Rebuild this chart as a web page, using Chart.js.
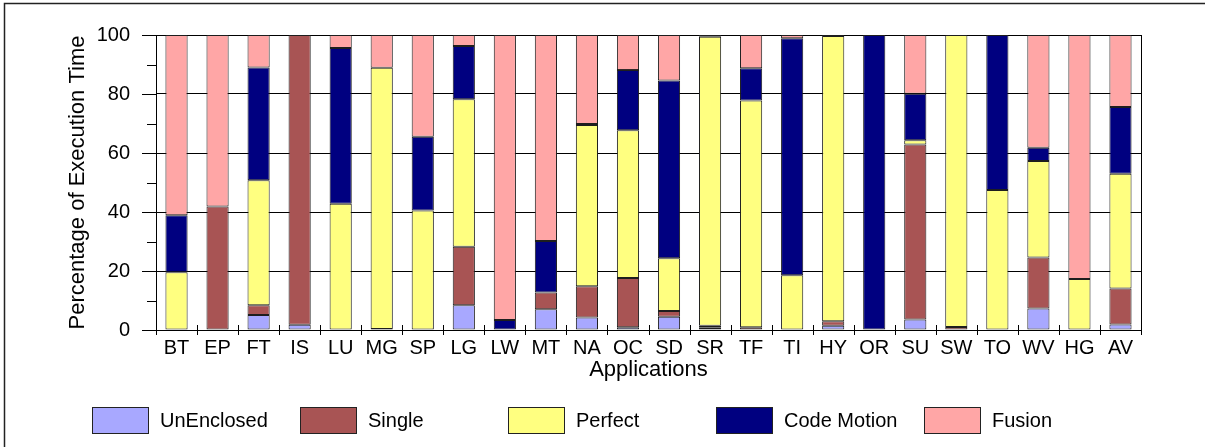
<!DOCTYPE html>
<html>
<head>
<meta charset="utf-8">
<script src="https://cdn.jsdelivr.net/npm/chart.js@4/dist/chart.umd.min.js"></script>
<style>
  html, body { margin: 0; padding: 0; background: #fff; }
  #wrap { position: relative; width: 1205px; height: 447px; }
</style>
</head>
<body>
<div id="wrap"><canvas id="c" width="1205" height="447"></canvas></div>
<script>
// Applications on the x axis
const applications = ['BT','EP','FT','IS','LU','MG','SP','LG','LW','MT','NA','OC',
                      'SD','SR','TF','TI','HY','OR','SU','SW','TO','WV','HG','AV'];

// Share of execution time (%) per category
const unEnclosed = [0, 0, 5.1, 1.8, 0, 0, 0, 8.4, 0, 7.0, 4.2, 0.9,
                    4.5, 0.8, 0, 0, 1.4, 0, 3.6, 0, 0, 7.3, 0, 1.9];
const single     = [0, 41.9, 3.3, 98.2, 0, 0.3, 0, 19.8, 0, 5.7, 10.6, 16.7,
                    1.9, 0.6, 0.9, 0, 1.6, 0, 59.3, 1.0, 0, 17.3, 0, 12.2];
const perfect    = [19.6, 0, 42.4, 0, 42.8, 88.6, 40.5, 50.0, 0, 0, 54.7, 50.1,
                    17.9, 98.0, 76.9, 18.6, 96.7, 0, 1.4, 99.0, 47.5, 32.7, 17.3, 38.9];
const codeMotion = [19.3, 0, 38.2, 0, 52.8, 0, 25.0, 18.1, 3.4, 17.5, 0.3, 20.4,
                    60.3, 0.6, 10.9, 80.3, 0.3, 100, 15.8, 0, 52.5, 4.5, 0, 22.6];
const fusion     = [61.1, 58.1, 11.0, 0, 4.4, 11.1, 34.5, 3.7, 96.6, 69.8, 30.2, 11.9,
                    15.4, 0, 11.3, 1.1, 0, 0, 19.9, 0, 0, 38.2, 82.7, 24.4];

const seriesNames = ['UnEnclosed', 'Single', 'Perfect', 'Code Motion', 'Fusion'];
const yTickLabels = [0, 20, 40, 60, 80, 100];

const colors = ['#A8A8FF', '#A85454', '#FFFF80', '#000080', '#FFA6A6'];
const FONT = 'Liberation Sans, Arial, Helvetica, sans-serif';

const PLOT = { left: 156, right: 1141, top: 35, bottom: 330 };

// Outer frame, axis tick marks, right border and legend
const decorations = {
  id: 'decorations',
  afterDraw(chart) {
    const ctx = chart.ctx;
    const x = chart.scales.x, y = chart.scales.y;
    const area = chart.chartArea;
    ctx.save();

    // frame around the figure (top and left edges)
    ctx.strokeStyle = '#222';
    ctx.lineWidth = 1.5;
    ctx.beginPath();
    ctx.moveTo(4.5, chart.height);
    ctx.lineTo(4.5, 3.5);
    ctx.lineTo(chart.width, 3.5);
    ctx.stroke();

    ctx.strokeStyle = '#000';
    ctx.lineWidth = 1;
    ctx.beginPath();
    // right edge of the plot
    ctx.moveTo(Math.round(area.right) + 0.5, area.top);
    ctx.lineTo(Math.round(area.right) + 0.5, area.bottom);
    // y tick marks: labelled majors and unlabelled minors
    for (let v = 0; v <= 100; v += 10) {
      const py = Math.round(y.getPixelForValue(v)) + 0.5;
      if (v % 20 === 0) {
        ctx.moveTo(area.left - 14, py);
        ctx.lineTo(area.left, py);
      } else {
        ctx.moveTo(area.left - 9, py);
        ctx.lineTo(area.left + 1, py);
      }
    }
    // x tick marks at category boundaries
    const n = applications.length;
    for (let i = 0; i <= n; i++) {
      let px;
      if (i === 0) px = area.left;
      else if (i === n) px = area.right;
      else px = (x.getPixelForValue(i - 1) + x.getPixelForValue(i)) / 2;
      px = Math.round(px) + 0.5;
      ctx.moveTo(px, area.bottom - 5);
      ctx.lineTo(px, area.bottom + 5);
    }
    ctx.stroke();

    // legend
    const boxW = 56, boxH = 26, startX = 92, step = 208, top = 407;
    ctx.font = '20px ' + FONT;
    ctx.textBaseline = 'middle';
    ctx.textAlign = 'left';
    chart.data.datasets.forEach((ds, i) => {
      const bx = startX + i * step;
      ctx.fillStyle = ds.backgroundColor;
      ctx.fillRect(bx, top, boxW, boxH);
      ctx.strokeStyle = '#222';
      ctx.lineWidth = 1;
      ctx.strokeRect(bx + 0.5, top + 0.5, boxW, boxH);
      ctx.fillStyle = '#000';
      ctx.fillText(ds.label, bx + boxW + 12, top + boxH / 2 + 1);
    });
    ctx.restore();
  }
};

const seriesData = [unEnclosed, single, perfect, codeMotion, fusion];

new Chart(document.getElementById('c'), {
  type: 'bar',
  data: {
    labels: applications,
    datasets: seriesNames.map((name, i) => ({
      label: name,
      data: seriesData[i],
      backgroundColor: colors[i],
      borderColor: '#1e1e1e',
      borderWidth: 1,
      borderSkipped: false,
      barPercentage: 0.54,
      categoryPercentage: 1.0
    }))
  },
  options: {
    responsive: false,
    animation: false,
    devicePixelRatio: 1,
    layout: { padding: { top: PLOT.top, right: 1205 - PLOT.right, left: 0, bottom: 0 } },
    plugins: {
      legend: { display: false },
      tooltip: { enabled: false }
    },
    scales: {
      x: {
        stacked: true,
        afterFit(scale) {
          scale.height = 447 - PLOT.bottom;
          scale.paddingLeft = 0;
          scale.paddingRight = 0;
        },
        grid: { display: false, drawTicks: false },
        border: { display: true, color: '#000', width: 1 },
        ticks: {
          color: '#000',
          padding: 6,
          maxRotation: 0,
          autoSkip: false,
          font: { family: FONT, size: 20 }
        },
        title: {
          display: true,
          text: 'Applications',
          color: '#000',
          font: { family: FONT, size: 22 },
          padding: { top: 0, bottom: 64 }
        }
      },
      y: {
        stacked: true,
        min: 0,
        max: 100,
        afterFit(scale) {
          scale.width = PLOT.left;
          scale.paddingTop = 0;
          scale.paddingBottom = 0;
        },
        grid: {
          drawTicks: false,
          color: ctx => (yTickLabels.includes(ctx.tick.value) ? '#000' : 'rgba(0,0,0,0)'),
          lineWidth: 1
        },
        border: { display: true, color: '#000', width: 1 },
        ticks: {
          stepSize: 10,
          padding: 26,
          color: '#000',
          font: { family: FONT, size: 20 },
          callback: v => (yTickLabels.includes(v) ? String(v) : '')
        },
        title: {
          display: true,
          text: 'Percentage of Execution Time',
          color: '#000',
          font: { family: FONT, size: 22 },
          padding: { top: 65, bottom: 0 }
        }
      }
    }
  },
  plugins: [decorations]
});
</script>
</body>
</html>
